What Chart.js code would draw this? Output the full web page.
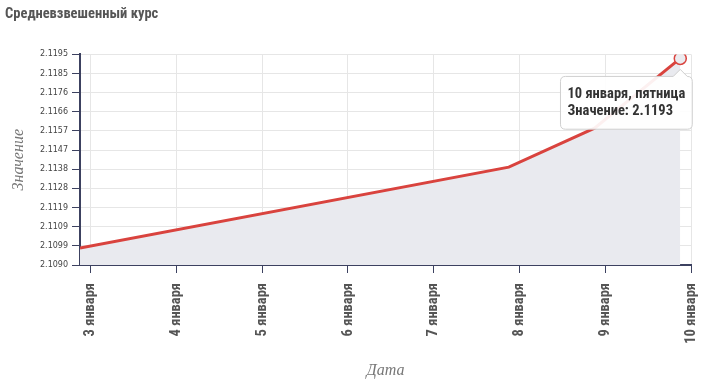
<!DOCTYPE html>
<html lang="ru">
<head>
<meta charset="utf-8">
<script src="https://cdn.jsdelivr.net/npm/chart.js@4.4.1/dist/chart.umd.min.js"></script>
<style>
  html, body { margin: 0; padding: 0; background: #fff; }
  #wrap { width: 710px; height: 386px; }
</style>
</head>
<body>
<div id="wrap"><canvas id="rateChart"></canvas></div>
<script>
// дни января 2020, за которые есть курс
const days = [3, 8, 9, 10];
const weekdays = ['пятница', 'среда', 'четверг', 'пятница'];
const rates = [2.10985, 2.11388, 2.11582, 2.1193];

// подписи осей
const xTickDays = [3, 4, 5, 6, 7, 8, 9, 10];
const xTickLabels = ['3 января', '4 января', '5 января', '6 января', '7 января', '8 января', '9 января', '10 января'];
const yTickLabels = ['2.1090', '2.1099', '2.1109', '2.1119', '2.1128', '2.1138', '2.1147', '2.1157', '2.1166', '2.1176', '2.1185', '2.1195'];
const yMin = 2.1090;
const yMax = 2.1195;

// метки времени приходят в UTC: 21:00 предыдущего дня
const tzShift = 3 / 24;

const RED = '#d9433e';
const AXIS = '#3c4160';
const NARROW = "'Liberation Sans Narrow', 'Roboto Condensed', Roboto, sans-serif";
const SERIF = "'Liberation Serif', 'DejaVu Serif', serif";

const chart = new Chart(document.getElementById('rateChart'), {
  type: 'line',
  data: {
    datasets: [{
      data: days.map((d, i) => ({ x: d - tzShift, y: rates[i] })),
      borderColor: RED,
      borderWidth: 3,
      backgroundColor: '#e9eaef',
      fill: 'start',
      tension: 0,
      pointRadius: 0,
      pointHoverRadius: 6,
      pointHoverBackgroundColor: '#ebebef',
      pointHoverBorderColor: RED,
      pointHoverBorderWidth: 1.5
    }]
  },
  options: {
    responsive: true,
    maintainAspectRatio: false,
    animation: false,
    events: [],
    layout: { padding: { left: 5, right: 19, top: 0, bottom: 4 } },
    plugins: {
      legend: { display: false },
      title: {
        display: true,
        text: 'Средневзвешенный курс',
        align: 'start',
        color: '#555',
        font: { family: NARROW, size: 14.5, weight: 'bold' },
        padding: { top: 6, bottom: 31 }
      },
      tooltip: {
        xAlign: 'right',
        yAlign: 'top',
        backgroundColor: 'rgba(255,255,255,0.92)',
        borderColor: '#cfcfcf',
        borderWidth: 1,
        titleColor: '#333',
        bodyColor: '#333',
        titleFont: { family: NARROW, size: 14.5, weight: 'bold' },
        bodyFont: { family: NARROW, size: 14.5, weight: 'bold' },
        titleMarginBottom: 0,
        padding: { x: 7, y: 9 },
        caretSize: 7,
        caretPadding: 11,
        cornerRadius: 5,
        displayColors: false,
        callbacks: {
          title: items => `${days[items[0].dataIndex]} января, ${weekdays[items[0].dataIndex]}`,
          label: item => `Значение: ${rates[item.dataIndex].toFixed(4)}`
        }
      }
    },
    scales: {
      x: {
        type: 'linear',
        min: days[0] - tzShift,
        max: days[days.length - 1],
        afterBuildTicks: s => { s.ticks = xTickDays.map(v => ({ value: v })); },
        afterFit: s => {
          s.height = 117;
          s.paddingLeft = 0;
          s.paddingRight = 0;
        },
        ticks: {
          callback: (v, i) => xTickLabels[i],
          minRotation: 90,
          maxRotation: 90,
          autoSkip: false,
          padding: 10,
          color: '#555',
          font: { family: NARROW, size: 14.5, weight: 'bold' }
        },
        grid: { color: '#e6e6e6', tickColor: AXIS, tickLength: 8 },
        border: { color: AXIS, width: 2 },
        title: {
          display: true,
          text: 'Дата',
          color: '#777',
          font: { family: SERIF, size: 16, style: 'italic' },
          padding: { top: 0, bottom: 2 }
        }
      },
      y: {
        min: yMin,
        max: yMax,
        afterBuildTicks: s => {
          const step = (yMax - yMin) / (yTickLabels.length - 1);
          s.ticks = yTickLabels.map((_, i) => ({ value: yMin + i * step }));
        },
        afterFit: s => { s.width = 75; },
        ticks: {
          callback: (v, i) => yTickLabels[i],
          color: '#444',
          padding: 4,
          font: { family: "'DejaVu Sans', Verdana, sans-serif", size: 8 }
        },
        grid: { color: '#e6e6e6', tickColor: AXIS, tickLength: 8 },
        border: { color: AXIS, width: 2 },
        title: {
          display: true,
          text: 'Значение',
          color: '#777',
          font: { family: SERIF, size: 16, style: 'italic' },
          padding: { top: 4, bottom: 0 }
        }
      }
    }
  }
});

// подсказка у последней точки, как в исходнике
const active = [{ datasetIndex: 0, index: days.length - 1 }];
chart.setActiveElements(active);
chart.tooltip.setActiveElements(active, { x: 0, y: 0 });
chart.update();
</script>
</body>
</html>
